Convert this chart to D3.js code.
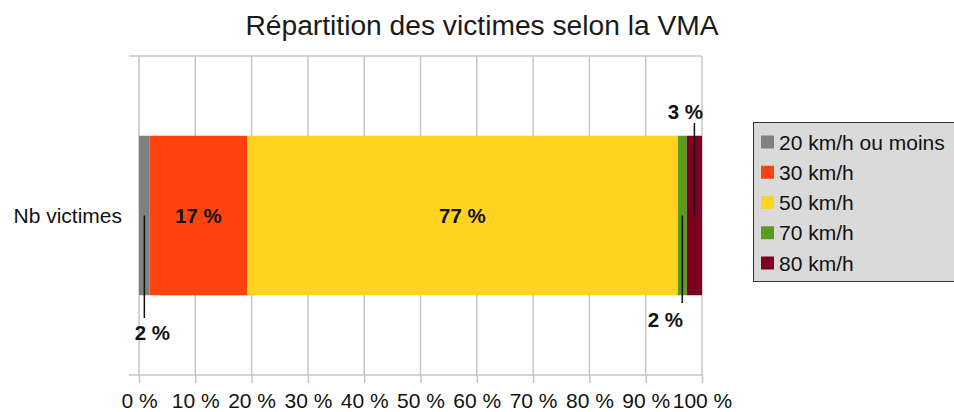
<!DOCTYPE html>
<html>
<head>
<meta charset="utf-8">
<script src="https://cdn.jsdelivr.net/npm/d3@7"></script>
<style>
  body { margin: 0; background: #fff; }
  svg { display: block; font-family: "Liberation Sans", Arial, sans-serif; }
</style>
</head>
<body>
<script>
(function () {

    const title = 'Répartition des victimes selon la VMA';
    const categories = ['Nb victimes'];
    const series = ['20 km/h ou moins', '30 km/h', '50 km/h', '70 km/h', '80 km/h'];
    const values = [1.9, 17.3, 76.5, 1.6, 2.7];   // % of victims
    const colors = ['#808080', '#ff420e', '#ffd320', '#579d1c', '#7e0021'];
    const ticks = [0, 10, 20, 30, 40, 50, 60, 70, 80, 90, 100];

    // label placement: 'in' = centred in bar, otherwise leader line up/down
    const labelPos = [
        {mode: 'down', lineEnd: 318, dx: 8, ty: 340},
        {mode: 'in'},
        {mode: 'in'},
        {mode: 'down', lineEnd: 303, dx: -17, ty: 327},
        {mode: 'up', lineEnd: 123, dx: -9, ty: 119}
    ];

    const width = 954, height = 412;

    const svg = d3.select('body')
        .append('svg')
        .attr('width', width)
        .attr('height', height);

    const x = d3.scaleLinear()
        .domain([0, 100])
        .range([139, 702]);

    const y = d3.scaleBand()
        .domain(categories)
        .range([56, 375])
        .paddingInner(0.5)
        .paddingOuter(0.25);

    // title
    svg.append('text')
        .attr('x', 482)
        .attr('y', 35)
        .attr('text-anchor', 'middle')
        .attr('font-size', 28.2)
        .attr('fill', '#1a1a1a')
        .text(title);

    // grid
    const grid = svg.append('g');
    grid.selectAll('line.v')
        .data(ticks)
        .join('line')
        .attr('class', 'v')
        .attr('x1', d => x(d))
        .attr('x2', d => x(d))
        .attr('y1', 56)
        .attr('y2', 375)
        .attr('stroke', '#c6c6c6')
        .attr('stroke-width', 1.5);

    grid.selectAll('line.h')
        .data([56, 375])
        .join('line')
        .attr('class', 'h')
        .attr('x1', 129)
        .attr('x2', x(100))
        .attr('y1', d => d)
        .attr('y2', d => d)
        .attr('stroke', '#c6c6c6')
        .attr('stroke-width', 1.5);

    // x axis
    const xAxis = d3.axisBottom(x)
        .tickValues(ticks)
        .tickSize(8)
        .tickSizeOuter(0)
        .tickPadding(10)
        .tickFormat(d => d + ' %');

    const ax = svg.append('g')
        .attr('transform', 'translate(0, 375)')
        .call(xAxis);
    ax.select('.domain').remove();
    ax.selectAll('.tick line').attr('stroke', '#c6c6c6').attr('stroke-width', 1.5);
    ax.selectAll('.tick text')
        .attr('font-size', 21)
        .attr('font-family', '"Liberation Sans", Arial, sans-serif')
        .attr('fill', '#111');

    // y category label
    svg.append('text')
        .attr('x', 122)
        .attr('y', y(categories[0]) + y.bandwidth() / 2)
        .attr('dy', '0.35em')
        .attr('text-anchor', 'end')
        .attr('font-size', 21)
        .attr('fill', '#111')
        .text(categories[0]);

    // stacked bar
    let cum = 0;
    const segs = values.map((v, i) => {
        const s = {i: i, x0: cum, x1: cum + v, v: v};
        cum += v;
        return s;
    });

    const by = y(categories[0]);
    const bh = y.bandwidth();
    const cy = by + bh / 2;

    svg.append('g')
        .selectAll('rect')
        .data(segs)
        .join('rect')
        .attr('x', d => x(d.x0))
        .attr('y', by)
        .attr('width', d => x(d.x1) - x(d.x0))
        .attr('height', bh)
        .attr('fill', d => colors[d.i]);

    // data labels
    const lab = svg.append('g');
    segs.forEach(d => {
        const p = labelPos[d.i];
        const mx = (x(d.x0) + x(d.x1)) / 2;
        const txt = Math.round(d.v) + ' %';
        if (p.mode === 'in') {
            lab.append('text')
                .attr('x', mx)
                .attr('y', cy)
                .attr('dy', '0.35em')
                .attr('text-anchor', 'middle')
                .attr('font-size', 20.5)
                .attr('font-weight', 'bold')
                .attr('fill', '#111')
                .text(txt);
        } else {
            lab.append('line')
                .attr('x1', mx)
                .attr('x2', mx)
                .attr('y1', cy)
                .attr('y2', p.lineEnd)
                .attr('stroke', '#111')
                .attr('stroke-width', 1.5);
            lab.append('text')
                .attr('x', mx + p.dx)
                .attr('y', p.ty)
                .attr('text-anchor', 'middle')
                .attr('font-size', 20.5)
                .attr('font-weight', 'bold')
                .attr('fill', '#111')
                .text(txt);
        }
    });

    // legend
    const leg = svg.append('g');
    leg.append('rect')
        .attr('x', 753.5)
        .attr('y', 122.5)
        .attr('width', 230)
        .attr('height', 159)
        .attr('fill', '#dadada')
        .attr('stroke', '#333')
        .attr('stroke-width', 1);

    const ly = d3.scalePoint()
        .domain(series)
        .range([142, 263]);

    const items = leg.selectAll('g.item')
        .data(series)
        .join('g')
        .attr('class', 'item')
        .attr('transform', d => 'translate(0, ' + ly(d) + ')');

    items.append('rect')
        .attr('x', 761)
        .attr('y', -6.5)
        .attr('width', 13)
        .attr('height', 13)
        .attr('fill', (d, i) => colors[i]);

    items.append('text')
        .attr('x', 779)
        .attr('y', 0)
        .attr('dy', '0.36em')
        .attr('font-size', 21)
        .attr('fill', '#111')
        .text(d => d);

})();
</script>
</body>
</html>
